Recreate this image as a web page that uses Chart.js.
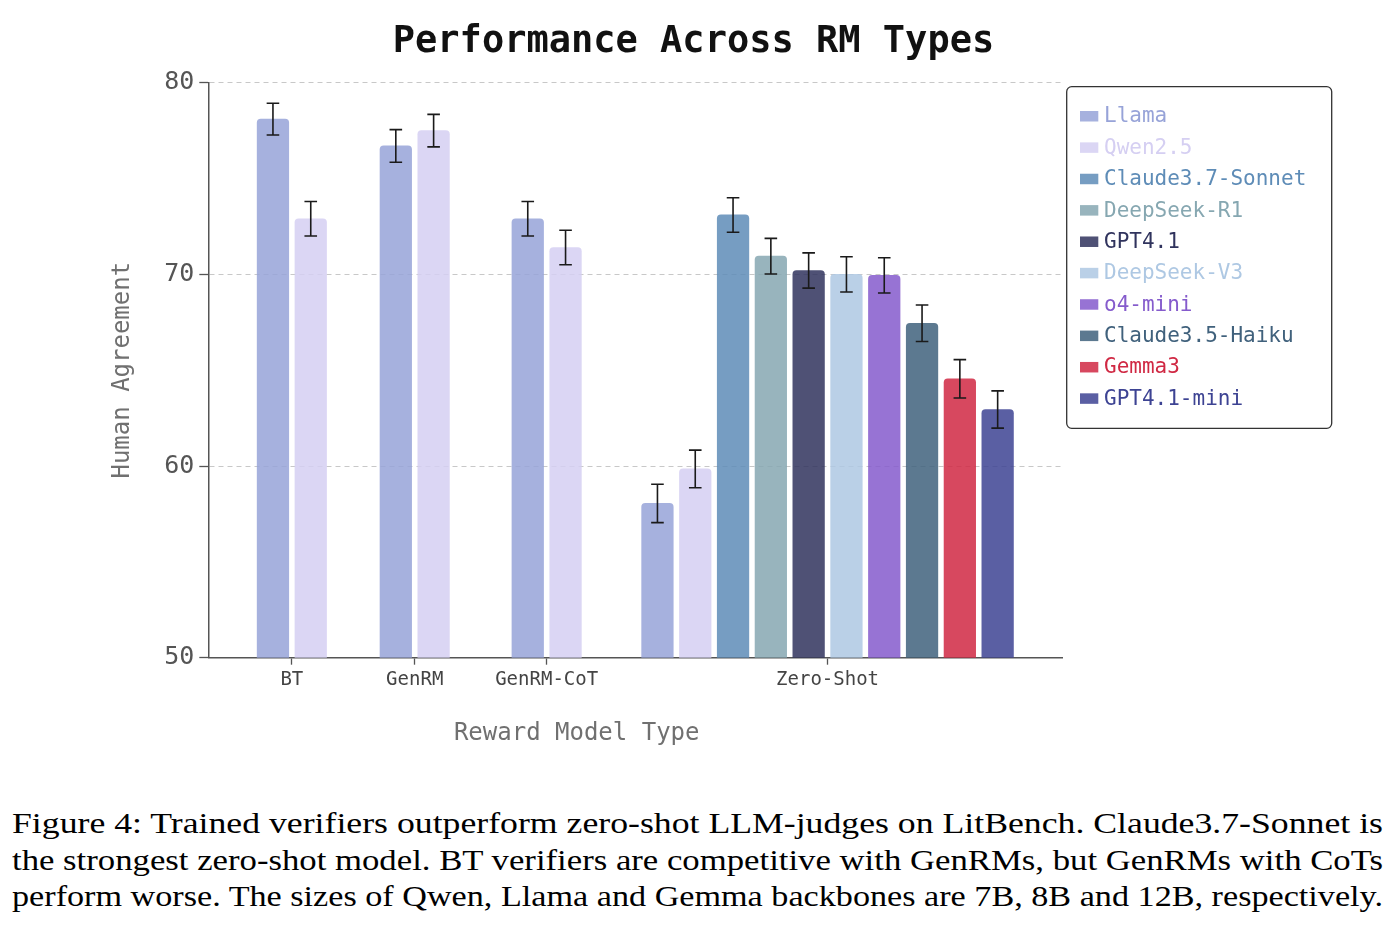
<!DOCTYPE html>
<html>
<head>
<meta charset="utf-8">
<script src="https://cdn.jsdelivr.net/npm/chart.js@4.4.1/dist/chart.umd.min.js"></script>
<style>
body{margin:0;background:#fff;width:1394px;height:928px;overflow:hidden;position:relative;}
#wrap{position:absolute;left:0;top:0;width:1394px;height:770px;}
#caption{position:absolute;left:12px;top:804.8px;width:1371px;font-family:"Liberation Serif","Times New Roman",serif;font-size:30px;line-height:36.7px;color:#000;}
#caption span{display:inline-block;white-space:nowrap;transform-origin:0 50%;}
</style>
</head>
<body>
<div id="wrap"><canvas id="chart"></canvas></div>
<div id="caption">
<span>Figure 4: Trained verifiers outperform zero-shot LLM-judges on LitBench. Claude3.7-Sonnet is</span><br>
<span>the strongest zero-shot model. BT verifiers are competitive with GenRMs, but GenRMs with CoTs</span><br>
<span>perform worse. The sizes of Qwen, Llama and Gemma backbones are 7B, 8B and 12B, respectively.</span>
</div>
<script>

// data
const groups = ["BT", "GenRM", "GenRM-CoT", "Zero-Shot"];

const llamaScores = [78.1, 76.7, 72.9, 58.05];
const llamaErr = [0.83, 0.85, 0.9, 1.0];

const qwenScores = [72.9, 77.5, 71.4, 59.85];
const qwenErr = [0.9, 0.85, 0.9, 0.98];

const zeroShotModels = [
    "Claude3.7-Sonnet",
    "DeepSeek-R1",
    "GPT4.1",
    "DeepSeek-V3",
    "o4-mini",
    "Claude3.5-Haiku",
    "Gemma3",
    "GPT4.1-mini"
];
const zeroShotScores = [73.1, 70.95, 70.2, 70.0, 69.95, 67.45, 64.55, 62.95];
const zeroShotErr = [0.9, 0.93, 0.92, 0.92, 0.92, 0.95, 1.0, 0.97];

const yTicks = [50, 60, 70, 80];

// layout: group centres along x, in bar-slot units
const groupX = [0, 3.25, 6.74, 14.17];

// styles
const baseColors = [
    "#97a3d8", "#d5cff2", "#5e8cb7", "#86a7b1", "#30335d",
    "#aec8e3", "#855bcc", "#40617c", "#d02843", "#3d4393"
];
const barAlpha = 0.85;
const MONO = "'DejaVu Sans Mono', 'Liberation Mono', monospace";

// caption lines stretched to the text width, like the justified paper caption
document.querySelectorAll("#caption span").forEach(sp=>{
    const w = sp.getBoundingClientRect().width;
    sp.style.transform = `scaleX(${1371 / w})`;
});

function withAlpha(hex, a){
    const r = parseInt(hex.slice(1,3),16);
    const g = parseInt(hex.slice(3,5),16);
    const b = parseInt(hex.slice(5,7),16);
    return `rgba(${r},${g},${b},${a})`;
}

function makeSet(label, scores, errs, ci){
    return {
        label,
        data: scores.map((v,i)=>({x: groupX[i], y: v})),
        errs,
        backgroundColor: withAlpha(baseColors[ci], barAlpha),
        borderWidth: 0,
        borderRadius: 4,
        borderSkipped: "start"
    };
}

const datasets = [
    makeSet("Llama", llamaScores, llamaErr, 0),
    makeSet("Qwen2.5", qwenScores, qwenErr, 1)
];

zeroShotModels.forEach((name,k)=>{
    datasets.push(
        makeSet(
            name,
            [null, null, null, zeroShotScores[k]],
            [null, null, null, zeroShotErr[k]],
            k + 2
        )
    );
});

const errorBars = {
    id: "errorBars",
    afterDatasetsDraw(chart){
        const ctx = chart.ctx;
        const yScale = chart.scales.y;
        ctx.save();
        ctx.strokeStyle = "#1a1a1a";
        ctx.lineWidth = 1.6;
        chart.data.datasets.forEach((ds,di)=>{
            const meta = chart.getDatasetMeta(di);
            ds.data.forEach((p,i)=>{
                if(p.y === null) return;
                const bar = meta.data[i];
                const e = ds.errs[i];
                const top = yScale.getPixelForValue(p.y + e);
                const bot = yScale.getPixelForValue(p.y - e);
                ctx.beginPath();
                ctx.moveTo(bar.x, top);
                ctx.lineTo(bar.x, bot);
                ctx.moveTo(bar.x - 6.3, top);
                ctx.lineTo(bar.x + 6.3, top);
                ctx.moveTo(bar.x - 6.3, bot);
                ctx.lineTo(bar.x + 6.3, bot);
                ctx.stroke();
            });
        });
        ctx.restore();
    }
};

const decorations = {
    id: "decorations",
    afterDraw(chart){
        const ctx = chart.ctx;
        ctx.save();

        // title
        ctx.fillStyle = "#111";
        ctx.font = `bold 37px ${MONO}`;
        ctx.textAlign = "center";
        ctx.textBaseline = "middle";
        ctx.fillText("Performance Across RM Types", 693.5, 42);

        // x axis title
        ctx.fillStyle = "#707070";
        ctx.font = `24px ${MONO}`;
        ctx.fillText("Reward Model Type", 576.7, 734);

        // legend box
        const bx = 1066.7, by = 86.7, bw = 265, bh = 341.6;
        ctx.beginPath();
        ctx.roundRect(bx, by, bw, bh, 5);
        ctx.fillStyle = "#fff";
        ctx.fill();
        ctx.strokeStyle = "#333";
        ctx.lineWidth = 1.3;
        ctx.stroke();

        ctx.textAlign = "left";
        ctx.font = `21px ${MONO}`;
        chart.data.datasets.forEach((ds,i)=>{
            const cy = 116 + i * 31.37;
            ctx.fillStyle = ds.backgroundColor;
            ctx.fillRect(1080, cy - 5, 18.3, 10.5);
            ctx.fillStyle = baseColors[i];
            ctx.fillText(ds.label, 1104, cy + 1);
        });

        ctx.restore();
    }
};

new Chart(document.getElementById("chart"), {
    type: "bar",
    data: { datasets },
    plugins: [errorBars, decorations],
    options: {
        responsive: true,
        maintainAspectRatio: false,
        animation: false,
        events: [],
        layout: { padding: { top: 82.7, right: 331.3, bottom: 0, left: 0 } },
        datasets: {
            bar: {
                skipNull: true,
                barThickness: 37.8,
                maxBarThickness: 31.6
            }
        },
        plugins: {
            legend: { display: false },
            title: { display: false },
            tooltip: { enabled: false }
        },
        scales: {
            x: {
                type: "linear",
                min: -2.21,
                max: 20.39,
                offset: false,
                afterFit: s => { s.height = 112.3; },
                afterBuildTicks: s => {
                    s.ticks = groupX.map(v => ({ value: v }));
                },
                grid: {
                    offset: false,
                    drawOnChartArea: false,
                    drawTicks: true,
                    tickLength: 7,
                    tickColor: "#555",
                    tickWidth: 1.3
                },
                border: { color: "#555", width: 1.5 },
                ticks: {
                    autoSkip: false,
                    maxRotation: 0,
                    padding: 4,
                    color: "#444",
                    font: { family: MONO, size: 19 },
                    callback: (v,i) => groups[i]
                }
            },
            y: {
                min: 50,
                max: 80,
                afterFit: s => { s.width = 208.3; },
                afterBuildTicks: s => {
                    s.ticks = yTicks.map(v => ({ value: v }));
                },
                grid: {
                    color: "#c8c8c8",
                    lineWidth: 1,
                    drawTicks: true,
                    tickLength: 9,
                    tickColor: "#555",
                    tickWidth: 1.3,
                    tickBorderDash: []
                },
                border: { color: "#555", width: 1.5, dash: [5, 4] },
                ticks: {
                    padding: 5,
                    color: "#555",
                    font: { family: MONO, size: 25 }
                },
                title: {
                    display: true,
                    text: "Human Agreement",
                    color: "#707070",
                    font: { family: MONO, size: 24 },
                    padding: { top: 108.6, bottom: 0 }
                }
            }
        }
    }
});
</script>
</body>
</html>
